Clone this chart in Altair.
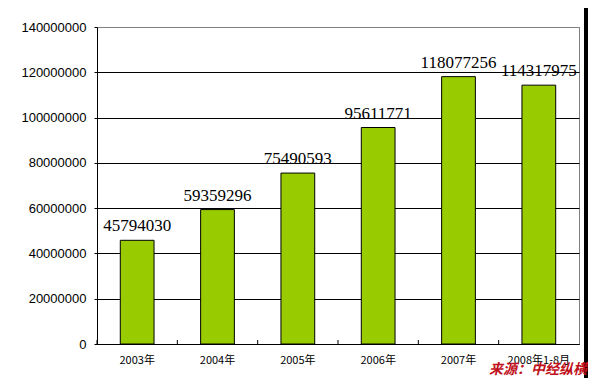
import altair as alt
import pandas as pd

categories = ["2003年", "2004年", "2005年", "2006年", "2007年", "2008年1-8月"]
values = [45794030, 59359296, 75490593, 95611771, 118077256, 114317975]
y_ticks = [0, 20000000, 40000000, 60000000, 80000000, 100000000, 120000000, 140000000]
source_text = "来源：中经纵横"

df = pd.DataFrame({"cat": categories, "val": values})

W, H = 482, 317

x_enc = alt.X(
    "cat:N",
    sort=categories,
    scale=alt.Scale(paddingInner=0, paddingOuter=0),
    axis=alt.Axis(
        title=None, labelAngle=0, ticks=False, domainColor="black",
        labelFont="Noto Sans CJK SC", labelFontSize=11, labelColor="black",
        labelPadding=10,
    ),
)
y_enc = alt.Y(
    "val:Q",
    scale=alt.Scale(domain=[0, 140000000], nice=False, zero=True),
    axis=alt.Axis(
        title=None, values=y_ticks, format="d", grid=True,
        gridColor=alt.condition("datum.value >= 140000000", alt.value("#808080"), alt.value("black")),
        gridWidth=1, domainColor="black", tickColor="black", tickSize=3,
        labelFont="Liberation Sans", labelFontSize=13, labelColor="black",
        labelPadding=8,
    ),
)

bars = alt.Chart(df).mark_bar(
    width=alt.RelativeBandSize(0.42), color="#99CC00", stroke="black", strokeWidth=1
).encode(x=x_enc, y=y_enc)

ticks = alt.Chart(df).mark_rule(color="black", strokeWidth=1).encode(
    x=alt.X("cat:N", sort=categories, bandPosition=0),
    y=alt.value(H - 4),
    y2=alt.value(H),
)

labels = alt.Chart(df).mark_text(
    baseline="bottom", dy=-5, font="Liberation Serif", fontSize=17, color="black"
).encode(x=alt.X("cat:N", sort=categories), y=alt.Y("val:Q"), text=alt.Text("val:Q", format="d"))

frame = alt.Chart(alt.Data(values=[{"a": 1}])).mark_rect(color="black").encode(
    x=alt.value(487), x2=alt.value(520), y=alt.value(-40), y2=alt.value(400)
)

source = alt.Chart(alt.Data(values=[{"a": 1}])).mark_text(
    font="Noto Sans CJK SC", fontSize=14, fontWeight="bold", fontStyle="italic",
    color="#C0101A", align="right", baseline="bottom"
).encode(x=alt.value(490), y=alt.value(350), text=alt.value(source_text))

chart = alt.layer(bars, ticks, labels, frame, source).properties(
    width=W, height=H, autosize="none",
    padding={"left": 89, "top": 19, "right": 9, "bottom": 34},
    background="white",
).configure_view(stroke="#808080", strokeWidth=1)

chart.save("out.html", embed_options={"renderer": "svg", "actions": False})
